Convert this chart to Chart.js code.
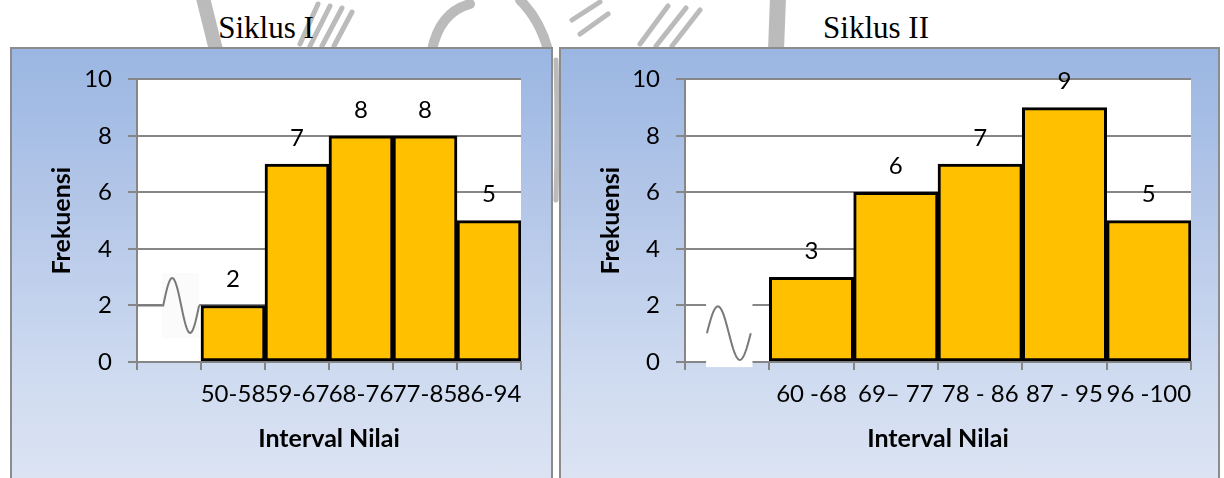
<!DOCTYPE html>
<html>
<head>
<meta charset="utf-8">
<script src="https://cdn.jsdelivr.net/npm/chart.js@4.4.1/dist/chart.umd.min.js"></script>
<style>
  html, body { margin: 0; padding: 0; background: #ffffff; width: 1224px; height: 478px; overflow: hidden; }
  .title { position: absolute; top: 10px; font-family: "Liberation Serif", "Times New Roman", serif; font-size: 31px; color: #000; white-space: nowrap; transform: translateX(-50%); line-height: 36px; }
  .panel { position: absolute; top: 47px; height: 440px; border: 2px solid #8c8c8c; box-sizing: border-box;
           background: linear-gradient(to bottom, #9ab6e2 0px, #b3c6e8 150px, #cfdbf0 330px, #dce4f3 431px); }
  canvas { position: absolute; top: 0; left: 0; }
  #wm { position: absolute; left: 0; top: 0; }
</style>
</head>
<body>
<svg id="wm" width="1224" height="478">
  <g fill="none" stroke="#8e8e8e" stroke-linecap="round" opacity="0.6">
    <path d="M203 -2 L216 50" stroke-width="14"/>
    <path d="M300 44 L318 4 M310 46 L330 6 M322 46 L342 8 M334 46 L352 12" stroke-width="5"/>
    <path d="M432 50 Q 440 12 470 4 M520 0 Q 540 20 548 50" stroke-width="10"/>
    <path d="M556 60 Q 558 130 556 200" stroke-width="5"/>
    <path d="M572 20 L600 2 M580 34 L608 14 M640 44 L668 6 M656 46 L686 8 M672 46 L700 10" stroke-width="5"/>
    <path d="M778 -2 L776 50" stroke-width="16"/>
  </g>
</svg>
<div class="title" style="left:266px;">Siklus I</div>
<div class="title" style="left:876px;">Siklus II</div>
<div class="panel" id="p1" style="left:10px; width:543px;"><canvas id="c1" width="539" height="429"></canvas></div>
<div class="panel" id="p2" style="left:559px; width:661px;"><canvas id="c2" width="657" height="429"></canvas></div>
<script>
// ---- data ----
const categories1 = ['', '50-58', '59-67', '68-76', '77-85', '86-94'];
const values1 = [null, 2, 7, 8, 8, 5];
const categories2 = ['', '60 -68', '69\u2013 77', '78 - 86', '87 - 95', '96 -100'];
const values2 = [null, 3, 6, 7, 9, 5];
const yMin = 0, yMax = 10, yStep = 2;
const xTitle = 'Interval Nilai';
const yTitle = 'Frekuensi';

const GRID = '#868686';
const FONT = 'Lato, "Open Sans", sans-serif';

const plotBg = {
  id: 'plotBg',
  beforeDraw(chart) {
    const {ctx, chartArea: a} = chart;
    ctx.save();
    ctx.fillStyle = '#ffffff';
    ctx.fillRect(a.left, a.top, a.right - a.left, a.bottom - a.top);
    ctx.restore();
  }
};

const valueLabels = {
  id: 'valueLabels',
  afterDatasetsDraw(chart) {
    const {ctx} = chart;
    const meta = chart.getDatasetMeta(0);
    const data = chart.data.datasets[0].data;
    ctx.save();
    ctx.font = '24px ' + FONT;
    ctx.fillStyle = '#000';
    ctx.textAlign = 'center';
    ctx.textBaseline = 'middle';
    meta.data.forEach((bar, i) => {
      if (data[i] == null) return;
      ctx.fillText(String(data[i]), bar.x, bar.y - 26);
    });
    ctx.restore();
  }
};

// axis break symbol, positioned relative to the first (empty) category and y scale
const breakMark = {
  id: 'breakMark',
  afterDraw(chart, args, opts) {
    if (!opts || !opts.spec) return;
    const s = opts.spec;
    const {ctx} = chart;
    const xs = chart.scales.x, ys = chart.scales.y;
    const w = xs.getPixelForValue(1) - xs.getPixelForValue(0);
    const c0 = xs.getPixelForValue(0) - w / 2;
    const rx0 = c0 + s.rect[0] * w, rx1 = c0 + s.rect[1] * w;
    const ry0 = ys.getPixelForValue(s.rect[2]), ry1 = ys.getPixelForValue(s.rect[3]);
    ctx.save();
    ctx.fillStyle = s.fill;
    ctx.fillRect(rx0, ry0, rx1 - rx0, ry1 - ry0);
    const x0 = c0 + s.wave[0] * w, x1 = c0 + s.wave[1] * w;
    const mid = ys.getPixelForValue(s.wave[2]);
    const amp = ys.getPixelForValue(0) - ys.getPixelForValue(s.wave[3]);
    ctx.strokeStyle = '#7a7a7a';
    ctx.lineWidth = 2;
    ctx.beginPath();
    if (s.lead) {
      ctx.moveTo(xs.left, mid);
      ctx.lineTo(x0, mid);
    } else {
      ctx.moveTo(x0, mid);
    }
    const N = 40;
    for (let k = 0; k <= N; k++) {
      const t = k / N;
      ctx.lineTo(x0 + (x1 - x0) * t, mid - amp * Math.sin(2 * Math.PI * t));
    }
    ctx.stroke();
    ctx.restore();
  }
};

function makeChart(id, labels, values, yWidth, padRight, spec) {
  return new Chart(document.getElementById(id), {
    type: 'bar',
    data: {
      labels: labels,
      datasets: [{
        data: values,
        backgroundColor: '#ffc000',
        borderColor: '#000000',
        borderWidth: 3,
        borderSkipped: false,
        categoryPercentage: 1.0,
        barPercentage: 1.0
      }]
    },
    options: {
      responsive: false,
      animation: false,
      devicePixelRatio: 1,
      layout: { padding: { top: 28, right: padRight, left: 0, bottom: 0 } },
      plugins: {
        legend: { display: false },
        tooltip: { enabled: false },
        breakMark: { spec: spec }
      },
      scales: {
        x: {
          offset: true,
          grid: { display: true, offset: true, drawOnChartArea: false, drawTicks: true, tickLength: 8, color: GRID, lineWidth: 2 },
          border: { display: true, color: GRID, width: 2 },
          ticks: { color: '#000', font: { family: FONT, size: 24 }, padding: 10, maxRotation: 0, autoSkip: false },
          title: { display: true, text: xTitle, color: '#000', font: { family: FONT, size: 25, weight: 'bold' }, padding: { top: 0, bottom: 24 } },
          afterFit(scale) { scale.height = 116; }
        },
        y: {
          min: yMin, max: yMax,
          ticks: { stepSize: yStep, color: '#000', font: { family: FONT, size: 24 }, padding: 16 },
          grid: { color: GRID, lineWidth: 2, tickLength: 9, drawTicks: true },
          border: { display: true, color: GRID, width: 2 },
          title: { display: true, text: yTitle, color: '#000', font: { family: FONT, size: 25, weight: 'bold' }, padding: { top: 35, bottom: 0 } },
          afterFit(scale) { scale.width = yWidth; }
        }
      }
    },
    plugins: [plotBg, valueLabels, breakMark]
  });
}

makeChart('c1', categories1, values1, 125, 30, {
  rect: [0.39, 0.97, 3.15, 0.85], fill: '#fbfbfb',
  wave: [0.41, 0.97, 2, 0.97], lead: true
});
makeChart('c2', categories2, values2, 124, 27, {
  rect: [0.25, 0.80, 2.15, -0.18], fill: '#ffffff',
  wave: [0.26, 0.78, 1.02, 0.95], lead: false
});
</script>
</body>
</html>
